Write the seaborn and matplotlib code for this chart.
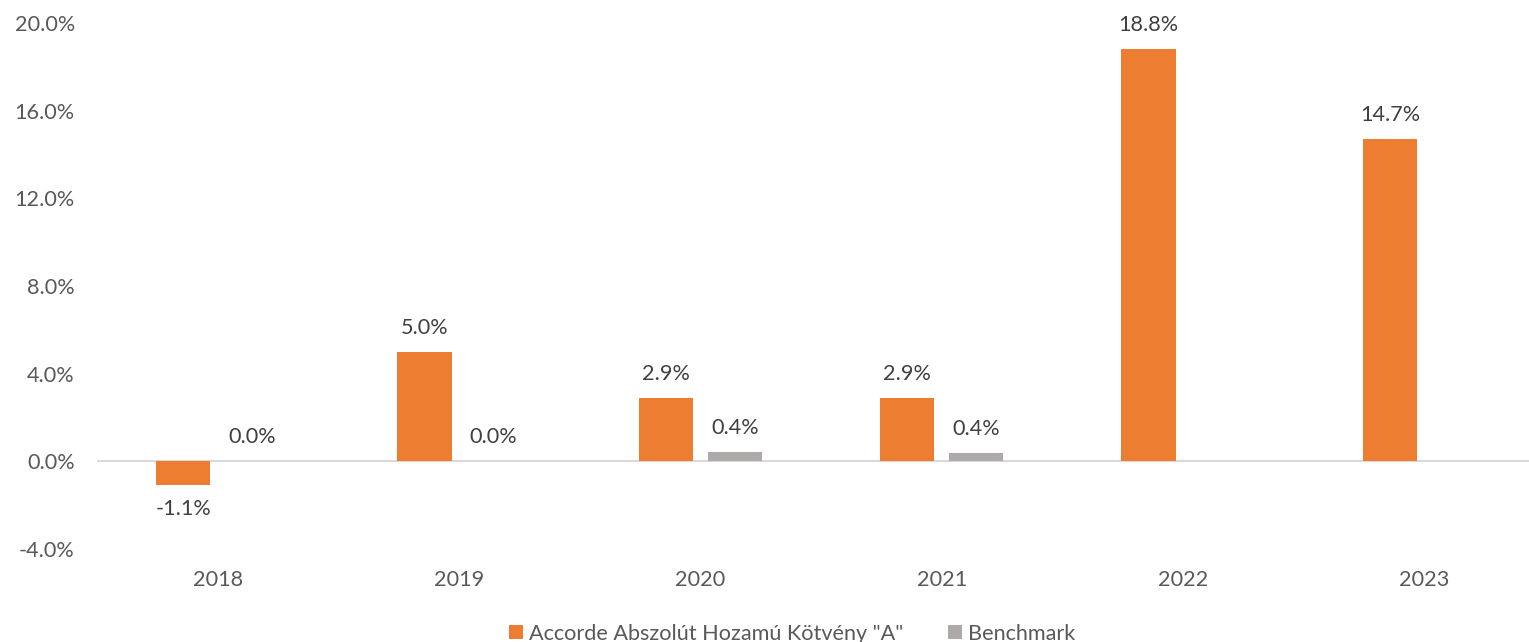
import pandas as pd
import numpy as np
import matplotlib
matplotlib.use("Agg")
import matplotlib.pyplot as plt
import seaborn as sns

# chart values
years = ["2018", "2019", "2020", "2021", "2022", "2023"]
fund_name = 'Accorde Abszolút Hozamú Kötvény "A"'
bench_name = "Benchmark"
fund_returns = [-1.1, 5.0, 2.9, 2.9, 18.8, 14.7]
bench_returns = [0.0, 0.0, 0.43, 0.38, None, None]
y_ticks = [-4, 0, 4, 8, 12, 16, 20]

rows = []
for yr, v in zip(years, fund_returns):
    rows.append({"year": yr, "series": fund_name, "value": v})
for yr, v in zip(years, bench_returns):
    if v is not None:
        rows.append({"year": yr, "series": bench_name, "value": v})
df = pd.DataFrame(rows)

sns.set_style("white")
plt.rcParams["font.family"] = ["Lato", "DejaVu Sans"]

colors = {fund_name: "#ED7D31", bench_name: "#AEAAAA"}
fs = 15.6

fig = plt.figure(figsize=(15.29, 6.42), dpi=100)
ax = fig.add_axes([97 / 1529, 1 - 549 / 642, 1448 / 1529, 526 / 642])

sns.barplot(data=df, x="year", y="value", hue="series", order=years,
            hue_order=[fund_name, bench_name], palette=colors,
            width=0.572, gap=0.217, saturation=1, errorbar=None,
            linewidth=0, ax=ax)

ax.set_ylim(-4, 20)
ax.set_xlim(-0.5, len(years) - 0.5)
ax.set_yticks(y_ticks)
ax.set_yticklabels([f"{t:.1f}%" for t in y_ticks])
ax.set_xlabel("")
ax.set_ylabel("")
for s in ax.spines.values():
    s.set_visible(False)
ax.axhline(0, color="#D9D9D9", linewidth=1.5, zorder=0)
ax.tick_params(axis="both", length=0, labelsize=fs, labelcolor="#595959")
ax.tick_params(axis="x", pad=15)
ax.tick_params(axis="y", pad=16)

# data labels
for cont in ax.containers:
    vals = [p.get_height() for p in cont]
    ax.bar_label(cont, labels=[f"{v:.1f}%" for v in vals], padding=10,
                 fontsize=fs, color="#404040")

handles, labels = ax.get_legend_handles_labels()
ax.legend_.remove()
fig.legend(handles, labels, loc="center", bbox_to_anchor=(792 / 1529, 1 - 634 / 642),
           ncol=2, frameon=False, fontsize=fs, handlelength=0.62, handleheight=0.62,
           handletextpad=0.27, columnspacing=2.1, labelcolor="#595959")

fig.savefig("out.png", dpi=100)
